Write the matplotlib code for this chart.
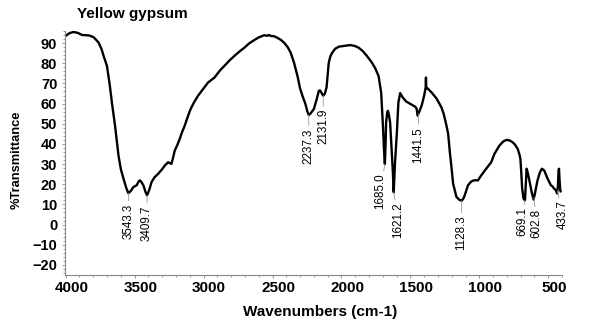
#!/usr/bin/env python3
# FTIR spectrum of yellow gypsum, redrawn from a scanned figure

import numpy as np
import matplotlib
matplotlib.use("Agg")
import matplotlib.pyplot as plt
from matplotlib.ticker import MultipleLocator
from matplotlib.transforms import ScaledTranslation

plt.rcParams["font.family"] = ["Liberation Sans", "DejaVu Sans"]

# spectrum (wavenumber in cm-1, %T)
wavenumber = [4000, 3970, 3942, 3910, 3882, 3833, 3800, 3786, 3761, 3740,
              3725, 3701, 3680, 3665, 3642, 3630, 3617, 3600, 3581, 3560,
              3545, 3530, 3509, 3485, 3470, 3461, 3450, 3437, 3420, 3410,
              3395, 3377, 3355, 3329, 3300, 3281, 3257, 3245, 3233, 3220,
              3209, 3190, 3173, 3155, 3137, 3112, 3094, 3070, 3040, 3000,
              2968, 2921, 2880, 2849, 2810, 2777, 2740, 2704, 2670, 2632,
              2600, 2560, 2540, 2525, 2512, 2490, 2464, 2440, 2416, 2390,
              2368, 2345, 2319, 2300, 2283, 2260, 2247, 2237, 2225, 2200,
              2180, 2164, 2155, 2146, 2132, 2120, 2108, 2100, 2092, 2080,
              2067, 2045, 2019, 1980, 1935, 1905, 1875, 1845, 1815, 1779,
              1755, 1731, 1720, 1712, 1705, 1699, 1692, 1685, 1680, 1676,
              1668, 1663, 1656, 1647, 1637, 1627, 1621, 1612, 1598, 1587,
              1574, 1555, 1530, 1497, 1466, 1455, 1447, 1441, 1430, 1418,
              1400, 1394, 1389, 1387, 1385, 1375, 1346, 1310, 1274, 1258,
              1238, 1226, 1214, 1202, 1190, 1166, 1145, 1128, 1115, 1106,
              1082, 1058, 1035, 1010, 986, 950, 914, 890, 854, 825,
              801, 780, 758, 740, 722, 710, 702, 695, 690, 680,
              669, 663, 657, 648, 637, 620, 606, 595, 578, 560,
              546, 529, 515, 505, 481, 470, 457, 445, 436, 430,
              425, 422, 418, 413, 410]
transmittance = [93.6, 95.0, 95.5, 95.0, 94.0, 93.8, 93.0, 92.1, 90.2, 87.0,
                 83.6, 78.7, 69.0, 60.5, 49.0, 42.0, 34.2, 27.5, 22.8, 18.0,
                 15.5, 16.5, 18.6, 19.5, 21.5, 21.9, 21.0, 19.5, 16.0, 14.5,
                 17.0, 21.1, 23.5, 25.2, 27.5, 29.3, 30.9, 30.5, 30.1, 33.5,
                 36.7, 39.5, 42.5, 46.0, 49.0, 54.0, 57.3, 60.5, 63.9, 67.5,
                 70.4, 72.9, 76.5, 78.7, 81.5, 83.6, 85.8, 87.7, 89.8, 91.5,
                 92.8, 93.9, 93.6, 94.0, 93.5, 93.4, 92.6, 91.6, 90.2, 88.0,
                 85.2, 80.5, 73.7, 67.5, 63.9, 59.5, 56.0, 54.3, 55.0, 57.3,
                 62.0, 66.3, 66.5, 65.5, 63.9, 65.0, 68.0, 74.0, 80.3, 83.5,
                 85.2, 87.2, 88.2, 88.6, 89.0, 88.6, 87.7, 86.0, 83.6, 80.3,
                 77.5, 73.7, 69.0, 65.5, 57.0, 49.0, 38.0, 30.0, 40.0, 50.7,
                 55.5, 56.4, 54.5, 50.7, 38.0, 26.0, 16.0, 30.0, 45.7, 60.5,
                 65.2, 63.0, 61.0, 59.7, 58.5, 57.5, 54.0, 55.0, 57.0, 59.0,
                 64.0, 66.3, 68.0, 72.9, 67.5, 67.5, 65.5, 62.5, 58.0, 54.8,
                 49.0, 45.0, 36.0, 28.5, 20.3, 13.7, 12.3, 11.8, 13.0, 14.5,
                 19.5, 21.4, 22.0, 21.9, 24.4, 27.7, 30.9, 35.1, 39.2, 41.3,
                 42.0, 41.7, 40.8, 39.5, 37.6, 35.0, 32.6, 25.0, 18.6, 13.0,
                 12.0, 20.0, 27.7, 25.5, 21.9, 16.0, 12.4, 16.0, 21.9, 26.0,
                 27.7, 26.8, 24.5, 22.8, 19.5, 19.0, 17.8, 17.0, 15.4, 19.0,
                 26.8, 27.7, 22.0, 17.0, 16.5]

# labelled peaks
peak_wn = [3543.3, 3409.7, 2237.3, 2131.9, 1685.0, 1621.2, 1441.5,
           1128.3, 669.1, 602.8, 433.7]
peak_labels = ["3543.3", "3409.7", "2237.3", "2131.9", "1685.0", "1621.2",
               "1441.5", "1128.3", "669.1", "602.8", "433.7"]

xticks = [4000, 3500, 3000, 2500, 2000, 1500, 1000, 500]
yticks = [90, 80, 70, 60, 50, 40, 30, 20, 10, 0, -10, -20]

# label offsets in points (dx, dy), so close peaks don't collide
label_offsets = {"1685.0": (-3.4, -7), "1621.2": (3.2, -8), "433.7": (3.5, -7),
                 "2237.3": (0, -9.5), "2131.9": (0, -9.5), "1441.5": (0, -9.5),
                 "1128.3": (0, -10.5), "669.1": (-1.5, -5), "602.8": (1.5, -8.5)}

wn = np.array(wavenumber)
tr = np.array(transmittance)

fig = plt.figure(figsize=(5.91, 3.28), dpi=100)
ax = fig.add_axes([0.110, 0.1616, 0.841, 0.744])

ax.plot(wn, tr, color="black", lw=1.7, solid_joinstyle="round")

ax.set_xlim(4005, 400)
ax.set_ylim(-25, 96)
ax.set_xticks(xticks)
ax.set_yticks(yticks)
ax.xaxis.set_minor_locator(MultipleLocator(100))
ax.yaxis.set_minor_locator(MultipleLocator(2))

for s in ["top", "right"]:
    ax.spines[s].set_visible(False)
ax.spines["left"].set_color("#888888")
ax.spines["bottom"].set_color("#888888")
ax.spines["left"].set_linewidth(0.8)
ax.spines["bottom"].set_linewidth(0.8)

ax.tick_params(which="both", direction="out", color="#888888", width=0.6)
ax.tick_params(which="major", length=2.5)
ax.tick_params(which="minor", length=1.5)
ax.tick_params(axis="x", labelsize=11, pad=2)
ax.tick_params(axis="y", labelsize=10.5, pad=3)
for lbl in ax.get_xticklabels() + ax.get_yticklabels():
    lbl.set_fontweight("bold")
# the scanned figure has its x tick labels a little to the right
shift = ScaledTranslation(4 / 72, 0, fig.dpi_scale_trans)
for lbl in ax.get_xticklabels():
    lbl.set_transform(lbl.get_transform() + shift)

# peak annotations hang below each band
peak_tr = np.interp(peak_wn, wn[::-1], tr[::-1])
for w, t, lab in zip(peak_wn, peak_tr, peak_labels):
    dx, dy = label_offsets.get(lab, (0, -7.5))
    ax.annotate(lab, xy=(w, t), xytext=(dx, dy), textcoords="offset points",
                rotation=90, ha="center", va="top", fontsize=8.4,
                arrowprops=dict(arrowstyle="-", color="#999999", lw=0.6,
                                shrinkA=0, shrinkB=0))

fig.text(77 / 591, 1 - 14 / 328, "Yellow gypsum", fontsize=11,
         fontweight="bold", ha="left", va="center")
fig.text(320 / 591, 1 - 312 / 328, "Wavenumbers (cm-1)", fontsize=11,
         fontweight="bold", ha="center", va="center")
fig.text(17 / 591, 1 - 160 / 328, "%Transmittance", fontsize=9.3,
         fontweight="bold", ha="center", va="center", rotation=90)

fig.savefig("out.png", dpi=100)
